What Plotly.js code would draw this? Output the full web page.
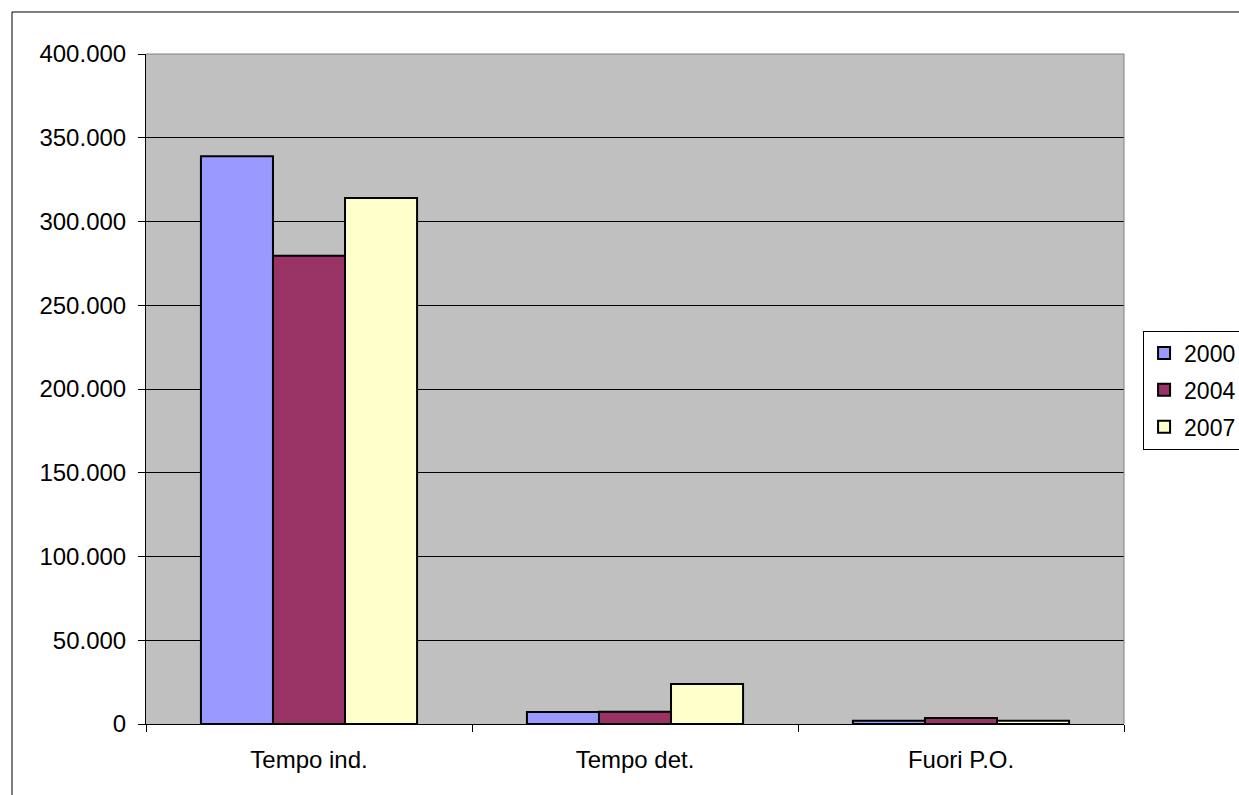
<!DOCTYPE html>
<html><head><meta charset="utf-8">
<script src="https://cdn.plot.ly/plotly-3.0.1.min.js"></script>
<style>body{margin:0;background:#fff}#chart{width:1239px;height:795px}</style>
</head><body><div id="chart"></div>
<script>
const categories = ["Tempo ind.", "Tempo det.", "Fuori P.O."];
const seriesNames = ["2000", "2004", "2007"];
const values2000 = [339000, 7200, 2000];
const values2004 = [279500, 7300, 3600];
const values2007 = [314000, 23900, 2000];
const colors = ["#9999FF", "#993366", "#FFFFCC"];
const yTicks = [0, 50000, 100000, 150000, 200000, 250000, 300000, 350000, 400000];

const allValues = [values2000, values2004, values2007];
const traces = allValues.map((v, i) => ({
  type: "bar", x: categories, y: v, name: seriesNames[i], legendgroup: "g" + i,
  marker: {color: colors[i], line: {color: "#000", width: 2}},
  hoverinfo: "x+y"
}));

const layout = {
  width: 1239, height: 795,
  margin: {l: 146, r: 115, t: 54, b: 71, autoexpand: false},
  paper_bgcolor: "#fff", plot_bgcolor: "#C0C0C0",
  separators: ",.",
  font: {family: "Liberation Sans, Arial, sans-serif", size: 24, color: "#000"},
  barmode: "group", bargap: 0.337, bargroupgap: 0,
  xaxis: {
    showline: true, linecolor: "#000", linewidth: 1, mirror: false,
    ticks: "outside", tickson: "boundaries", ticklen: 7, tickcolor: "#000",
    ticklabelstandoff: 14, showgrid: false, tickfont: {size: 24}, automargin: false
  },
  yaxis: {
    range: [0, 400000], tickvals: yTicks, tickformat: ",d",
    showline: true, linecolor: "#000", linewidth: 1,
    ticks: "outside", ticklen: 7, tickcolor: "#000",
    showgrid: true, gridcolor: "#000", gridwidth: 1, zeroline: false,
    ticklabelstandoff: 7, tickfont: {size: 24}, automargin: false
  },
  legend: {
    x: 1.0195, xanchor: "left", y: 0.4985, yanchor: "middle",
    bgcolor: "#fff", bordercolor: "#000", borderwidth: 1,
    font: {size: 23}, itemwidth: 30, tracegroupgap: 4
  },
  shapes: [{
    type: "rect", xref: "paper", yref: "paper",
    x0: -0.137, x1: 1.3, y0: -0.2, y1: 1.0627,
    line: {color: "#000", width: 1}, fillcolor: "rgba(0,0,0,0)", layer: "below"
  }, {
    type: "line", xref: "paper", yref: "paper",
    x0: 1, x1: 1, y0: 0, y1: 1, line: {color: "#808080", width: 1}
  }, {
    type: "line", xref: "paper", yref: "paper",
    x0: 0, x1: 1, y0: 1, y1: 1, line: {color: "#808080", width: 1}
  }]
};
Plotly.newPlot("chart", traces, layout, {displayModeBar: false});
</script></body></html>
